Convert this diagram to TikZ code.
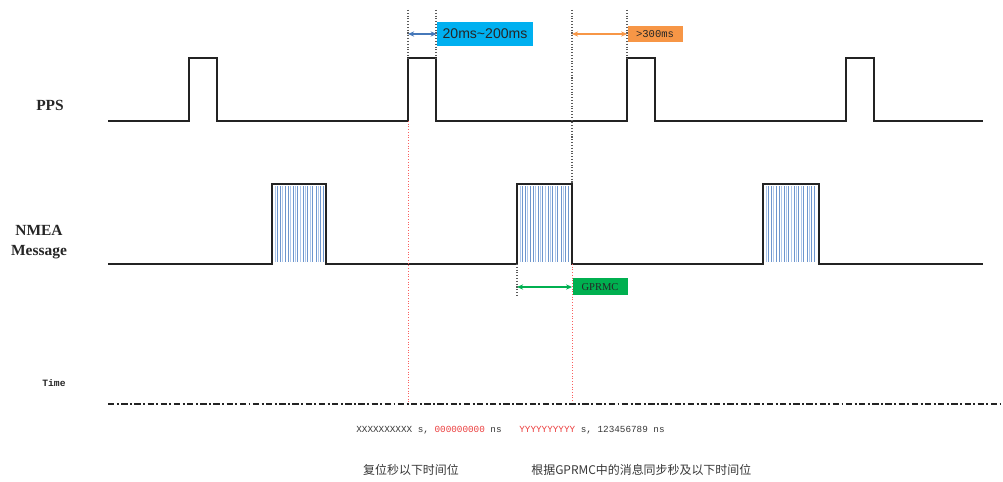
\documentclass[tikz,border=0pt]{standalone}
\usepackage{fontspec}
\setmainfont{Liberation Serif}
\setsansfont{Liberation Sans}
\setmonofont{Liberation Mono}
\newfontfamily\cjk{Noto Sans CJK SC}
\usetikzlibrary{arrows.meta,positioning}
\definecolor{waveblack}{RGB}{35,35,35}
\definecolor{burstblue}{RGB}{110,150,205}
\definecolor{burstpale}{RGB}{175,200,235}
\definecolor{gapcyan}{RGB}{0,176,240}
\definecolor{gaparrow}{RGB}{70,120,185}
\definecolor{waitorange}{RGB}{247,150,70}
\definecolor{rmcgreen}{RGB}{0,176,80}
\definecolor{markred}{RGB}{235,60,60}
\definecolor{guidered}{RGB}{250,95,95}
\definecolor{guidegray}{RGB}{90,90,90}
\definecolor{notegray}{RGB}{55,55,55}
\tikzset{
  sigtext/.style={font=\fontsize{8.8}{11.3}\selectfont\bfseries,align=center,text=black!85},
  wave/.style={draw=waveblack,line width=1.1pt,line join=miter},
  burst/.style={draw=burstblue,line width=0.5pt},
  burstlight/.style={draw=burstpale,line width=0.5pt},
  guide/.style={draw=guidegray,line width=0.6pt,densely dotted},
  redguide/.style={draw=guidered,line width=0.55pt,densely dotted},
  axisline/.style={draw=waveblack,line width=1.1pt,dash pattern=on 3.6pt off 1.4pt on 1.1pt off 1.4pt},
  spanarr/.style={{Stealth[length=3.5pt,width=3pt]}-{Stealth[length=3.5pt,width=3pt]},line width=0.7pt},
  tagbox/.style={rectangle,inner sep=0pt,text=black!85},
  stamptext/.style={font=\ttfamily\fontsize{5.3}{6}\selectfont,text=notegray,anchor=west,inner sep=0pt},
  notetext/.style={font=\cjk\fontsize{6.8}{8}\selectfont,text=notegray,inner sep=0pt}
}
\begin{document}
\begin{tikzpicture}[x=0.02cm,y=-0.02cm]
  \useasboundingbox (0,0) rectangle (1003,482);

  \node[sigtext] (pps) at (50,105) {PPS};
  \node[sigtext] (nmea) at (39,242) {NMEA\\Message};
  \node[sigtext,font=\ttfamily\bfseries\fontsize{5.5}{6}\selectfont] (tlabel) at (54,383) {Time};

  % PPS line
  \draw[wave] (108,121) -- (189,121) -- (189,58) -- (217,58) -- (217,121)
    -- (408,121) -- (408,58) -- (436,58) -- (436,121)
    -- (627,121) -- (627,58) -- (655,58) -- (655,121)
    -- (846,121) -- (846,58) -- (874,58) -- (874,121) -- (983,121);

  % message bursts
  \foreach \b in {272,517,763}{
    \foreach \o in {5,8,13,16,21,25,31,35,40,44,48,51}
      \draw[burst] (\b+\o,186) -- (\b+\o,262);
    \foreach \o in {3,10,18,23,28,33,38,46}
      \draw[burstlight] (\b+\o,186) -- (\b+\o,262);
  }
  \draw[wave] (108,264) -- (272,264) -- (272,184) -- (326,184) -- (326,264)
    -- (517,264) -- (517,184) -- (572,184) -- (572,264)
    -- (763,264) -- (763,184) -- (819,184) -- (819,264) -- (983,264);

  \draw[axisline] (108,404) -- (1000,404);

  % guides
  \draw[guide] (408,10) -- (408,58);
  \draw[guide] (436,10) -- (436,58);
  \draw[guide] (572,10) -- (572,184);
  \draw[guide] (627,10) -- (627,58);
  \draw[guide] (517,264) -- (517,296);
  \draw[redguide] (408,121) -- (408,402);
  \draw[redguide] (572,264) -- (572,402);

  \node[tagbox,fill=gapcyan,minimum width=96*0.02cm,minimum height=24*0.02cm,
        font=\sffamily\fontsize{8}{9}\selectfont] (gapbox) at (485,34) {20ms\textasciitilde200ms};
  \node[tagbox,fill=waitorange,minimum width=55*0.02cm,minimum height=16*0.02cm,
        font=\ttfamily\fontsize{6}{7}\selectfont] (waitbox) at (655,34) {>300ms};
  \node[tagbox,fill=rmcgreen,minimum width=55*0.02cm,minimum height=17*0.02cm,
        font=\fontsize{6}{7}\selectfont] (rmcbox) at (600,287) {GPRMC};

  \coordinate (gapstart) at (408,34);
  \coordinate (waitstart) at (572,34);
  \coordinate (rmcstart) at (517,287);
  \draw[spanarr,gaparrow] (gapstart) -- (gapbox.west);
  \draw[spanarr,waitorange] (waitstart) -- (waitbox.west);
  \draw[spanarr,rmcgreen] (rmcstart) -- (rmcbox.west);

  \node[stamptext] (stampa) at (356,430)
    {XXXXXXXXXX s, \textcolor{markred}{000000000} ns};
  \node[stamptext] (stampb) at (519,430)
    {\textcolor{markred}{YYYYYYYYYY} s, 123456789 ns};

  \node[notetext] (resetnote) at (411,470) {复位秒以下时间位};
  \node[notetext,anchor=west] (syncnote) at (531,470) {根据GPRMC中的消息同步秒及以下时间位};
\end{tikzpicture}
\end{document}
